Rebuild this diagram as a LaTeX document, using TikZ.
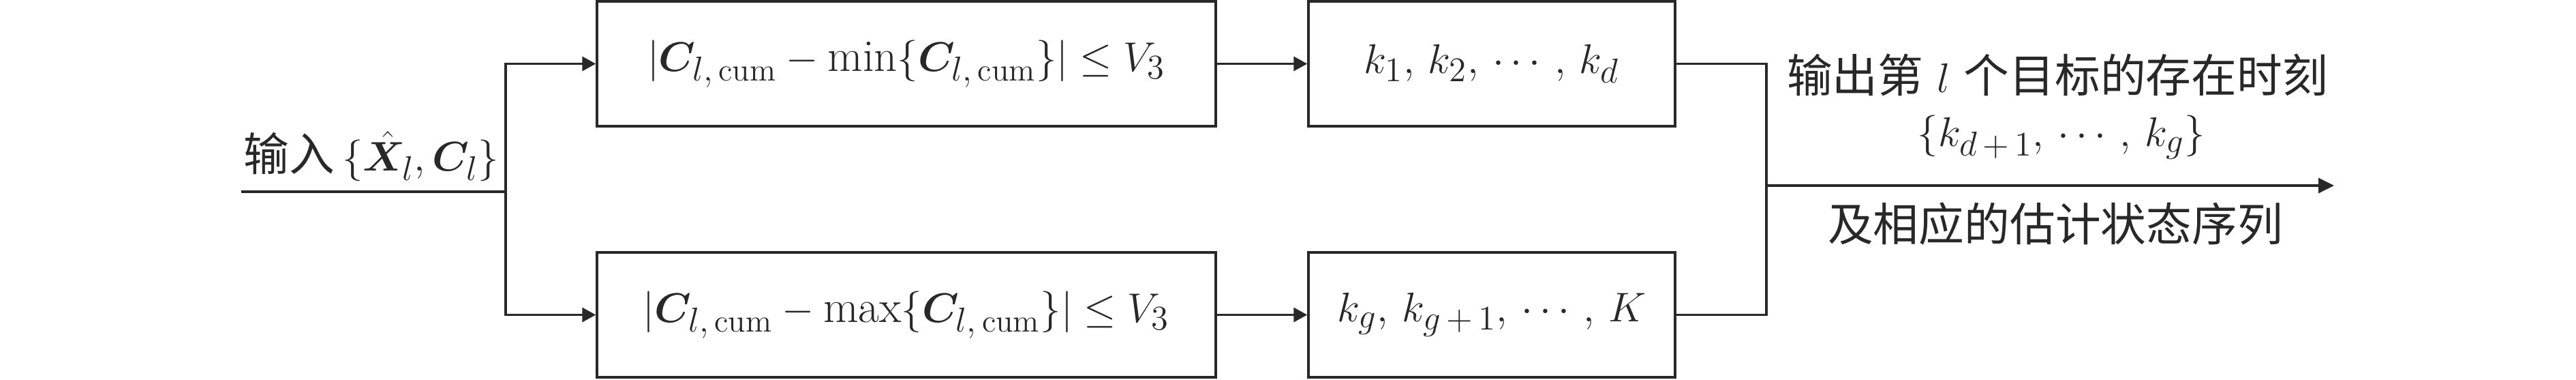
\documentclass[tikz,border=0pt]{standalone}
\usepackage{amsmath,amssymb,bm}
\usepackage{fontspec}
\newfontfamily\cjk{Noto Sans CJK SC}
\usetikzlibrary{arrows.meta}
\definecolor{ink}{RGB}{40,40,40}
\begin{document}
\begin{tikzpicture}[x=1cm,y=1cm,
  box/.style={draw=ink,line width=1pt,inner sep=0pt,text=ink,font=\fontsize{19}{23}\selectfont},
  conn/.style={draw=ink,line width=1pt},
  arr/.style={conn,-{Triangle[length=0.2cm,width=0.21cm]}},
  arrout/.style={conn,-{Triangle[length=0.23cm,width=0.22cm]}},
  lbl/.style={text=ink,inner sep=0pt,font=\fontsize{19}{23}\selectfont}]
\useasboundingbox (0,0) rectangle (37.8,5.56);
\node[box,minimum width=9.08cm,minimum height=1.83cm] (b1) at (13.30,4.625)
  {$|\bm C_{l,\,\mathrm{cum}}-\min\{\bm C_{l,\,\mathrm{cum}}\}|\le V_3$};
\node[box,minimum width=9.08cm,minimum height=1.83cm] (b2) at (13.30,0.945)
  {$|\bm C_{l,\,\mathrm{cum}}-\max\{\bm C_{l,\,\mathrm{cum}}\}|\le V_3$};
\node[box,minimum width=5.38cm,minimum height=1.83cm] (k1) at (21.89,4.625)
  {$k_1,\, k_2,\, \cdots,\, k_d$};
\node[box,minimum width=5.38cm,minimum height=1.83cm] (k2) at (21.89,0.945)
  {$k_g,\, k_{g\,+\,1},\, \cdots,\, K$};
\coordinate (in) at (3.54,2.75);
\coordinate (jl) at (7.42,2.75);
\coordinate (jr) at (25.92,2.84);
\coordinate (out) at (34.25,2.84);
\node[lbl,anchor=base west] (inl) at (3.57,3.06) {{\cjk 输入}\,$\{\hat{\bm X}_l, \bm C_l\}$};
\node[lbl,anchor=base] (o1) at (30.19,4.21) {{\cjk 输出第} $l$ {\cjk 个目标的存在时刻}};
\node[lbl,anchor=base] (o2) at (30.25,3.42) {$\{k_{d\,+\,1},\, \cdots,\, k_g\}$};
\node[lbl,anchor=base] (o3) at (30.16,2.03) {\cjk 及相应的估计状态序列};
\draw[conn] (in) -- (jl);
\draw[arr] (jl) |- (b1.west);
\draw[arr] (jl) |- (b2.west);
\draw[arr] (b1) -- (k1);
\draw[arr] (b2) -- (k2);
\draw[conn] (k1.east) -| (jr);
\draw[conn] (k2.east) -| (jr);
\draw[arrout] (jr) -- (out);
\end{tikzpicture}
\end{document}
